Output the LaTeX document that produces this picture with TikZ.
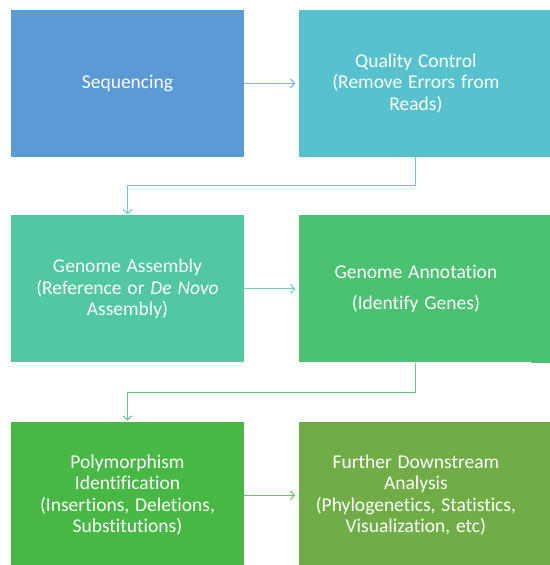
\documentclass[tikz,border=0pt]{standalone}
\usepackage{fontspec}
\setmainfont{Carlito}[Ligatures=NoCommon]
\usetikzlibrary{positioning}
\usetikzlibrary{arrows.meta}

\definecolor{seqblue}{HTML}{5B9BD5}
\definecolor{qcteal}{HTML}{58C1CE}
\definecolor{gamint}{HTML}{51C7A3}
\definecolor{angreen}{HTML}{4BC172}
\definecolor{pmgreen}{HTML}{48B845}
\definecolor{fdolive}{HTML}{70AD47}

\newcommand\stagefont{\fontsize{19.5}{21.5}\selectfont\spaceskip=0.3em plus 0.1em\relax}

\tikzset{
  stagebox/.style={rectangle, minimum width=233pt, minimum height=147pt, inner sep=0pt,
    text=white, align=center, font=\stagefont},
  flowarrow/.style={line width=1.1pt, -{Straight Barb[length=4pt,width=9pt]}}
}

\begin{document}
\begin{tikzpicture}[x=1pt, y=1pt]
\useasboundingbox (0,0) rectangle (549,-565);
\node[stagebox, fill=seqblue] (seq) at (127.5,-83.5) {Sequencing};
\node[stagebox, fill=qcteal, right=55pt of seq] (qc) {Quality Control\\(Remove Errors from\\Reads)};
\node[stagebox, fill=gamint, below=58pt of seq] (ga) {Genome Assembly\\(Reference or \textit{De Novo}\\Assembly)};
\node[stagebox, fill=angreen, right=55pt of ga] (an) {Genome Annotation\\[10pt](Identify Genes)};
\node[stagebox, fill=pmgreen, below=59pt of ga] (pm) {Polymorphism\\Identification\\(Insertions, Deletions,\\Substitutions)};
\node[stagebox, fill=fdolive, right=55pt of pm] (fd) {Further Downstream\\Analysis\\(Phylogenetics, Statistics,\\Visualization, etc)};
% right column runs on to the edge
\foreach \n/\c in {qc/qcteal, an/angreen, fd/fdolive}
  \fill[\c] ([xshift=-2pt]\n.north east) rectangle ([xshift=20pt]\n.south east);
\draw[flowarrow, seqblue!75!white, shorten >=4pt] (seq) -- (qc);
\draw[flowarrow, qcteal!85!white, shorten >=1pt] (qc.south) -- ++(0,-28) -| (ga.north);
\draw[flowarrow, gamint!80!white, shorten >=4pt] (ga) -- (an);
\draw[flowarrow, angreen!85!white, shorten >=1pt] (an.south) -- ++(0,-30) -| (pm.north);
\draw[flowarrow, pmgreen!80!white, shorten >=4pt] (pm) -- (fd);
\end{tikzpicture}
\end{document}
